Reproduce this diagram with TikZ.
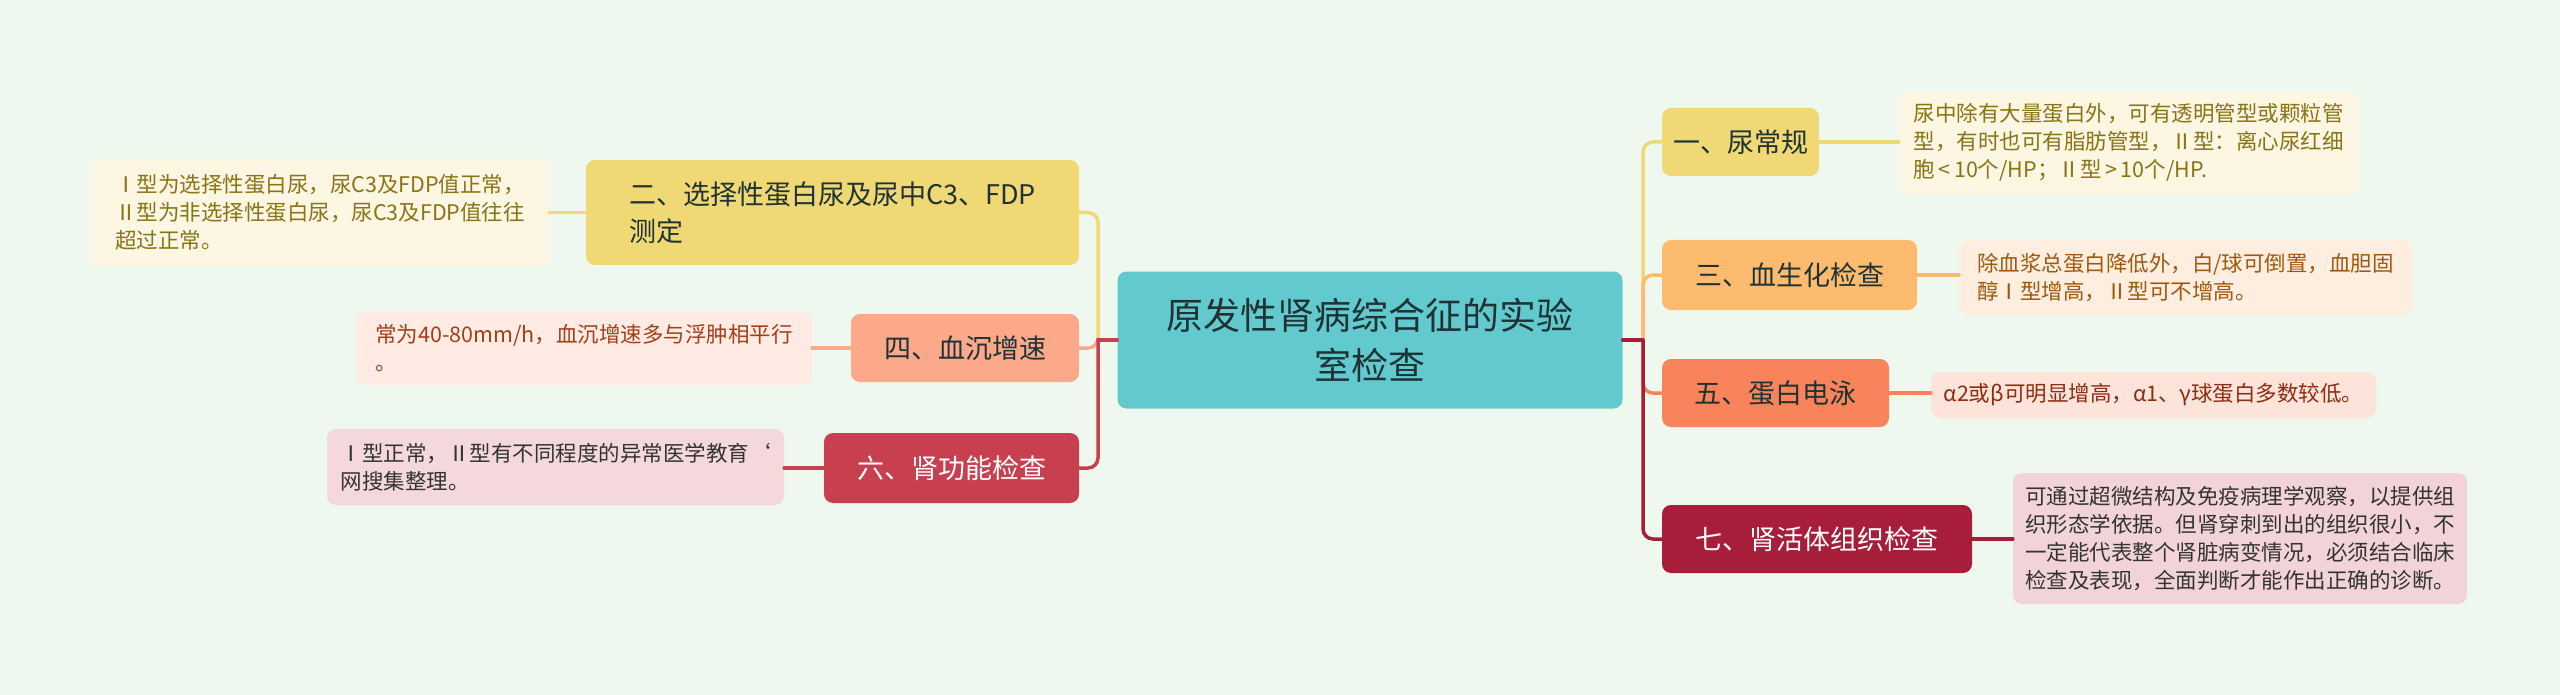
\documentclass[tikz,border=0pt]{standalone}
\usepackage{fontspec}
\setmainfont{Noto Sans CJK SC}
\definecolor{bg}{HTML}{EFF8EE}
\definecolor{cmain}{HTML}{62CACE}
\definecolor{ctext}{HTML}{1F3335}
\definecolor{cyel}{HTML}{F0D875}
\definecolor{cyelleaf}{HTML}{FCF6E2}
\definecolor{cyeltext}{HTML}{8A7415}
\definecolor{csal}{HTML}{FCA88A}
\definecolor{csalleaf}{HTML}{FDEBE4}
\definecolor{csaltext}{HTML}{A63D18}
\definecolor{cred}{HTML}{C8404F}
\definecolor{credleaf}{HTML}{F5D8DC}
\definecolor{cora}{HTML}{FDBB6F}
\definecolor{coraleaf}{HTML}{FEEEDF}
\definecolor{coratext}{HTML}{A0580F}
\definecolor{cfive}{HTML}{F9835A}
\definecolor{cfiveleaf}{HTML}{FDE4DA}
\definecolor{cfivetext}{HTML}{8E2D12}
\definecolor{cdark}{HTML}{A61E3A}
\definecolor{cdarkleaf}{HTML}{F1D3D9}
\definecolor{cgray}{HTML}{333333}
\begin{document}
\begin{tikzpicture}[x=1pt,y=-1pt,
  box/.style={rounded corners=9pt, inner sep=0pt, anchor=center, align=left},
  branchbox/.style={box, font=\fontsize{27pt}{37pt}\selectfont, text=ctext},
  leafbox/.style={box, font=\fontsize{21.5pt}{28pt}\selectfont},
  conn/.style={line width=3.5pt, rounded corners=10pt, line cap=round}]
\fill[bg] (0,0) rectangle (2560,695);
\useasboundingbox (0,0) rectangle (2560,695);

% center
\node[box, fill=cmain, minimum width=505pt, minimum height=137pt, align=center,
  font=\fontsize{37pt}{50pt}\selectfont, text=ctext] (C) at (1370,340)
  {原发性肾病综合征的实验\\室检查};

% left branches
\node[branchbox, fill=cyel, minimum width=493pt, minimum height=105pt] (n2) at (832.5,212.5)
  {二、选择性蛋白尿及尿中C3、FDP\\测定};
\node[leafbox, fill=cyelleaf, text=cyeltext, minimum width=458pt, minimum height=108pt] (l2) at (320,212)
  {Ⅰ型为选择性蛋白尿，尿C3及FDP值正常，\\Ⅱ型为非选择性蛋白尿，尿C3及FDP值往往\\超过正常。};
\node[branchbox, fill=csal, minimum width=228pt, minimum height=68pt] (n4) at (965,348)
  {四、血沉增速};
\node[leafbox, fill=csalleaf, text=csaltext, minimum width=456pt, minimum height=74pt] (l4) at (584,348)
  {常为40-80mm/h，血沉增速多与浮肿相平行\\。};
\node[branchbox, fill=cred, text=white, minimum width=255pt, minimum height=70pt] (n6) at (951.5,468)
  {六、肾功能检查};
\node[leafbox, fill=credleaf, text=cgray, minimum width=457pt, minimum height=76pt] (l6) at (555.5,467)
  {Ⅰ型正常，Ⅱ型有不同程度的异常医学教育\symbol{"60}\\网搜集整理。};

% right branches
\node[branchbox, fill=cyel, minimum width=157pt, minimum height=68pt] (n1) at (1740.5,142)
  {一、尿常规};
\node[leafbox, fill=cyelleaf, text=cyeltext, minimum width=459pt, minimum height=103pt] (l1) at (2128.5,142.5)
  {尿中除有大量蛋白外，可有透明管型或颗粒管\\型，有时也可有脂肪管型，Ⅱ型：离心尿红细\\胞\,<\,10个/HP；Ⅱ型\,>\,10个/HP.};
\node[branchbox, fill=cora, minimum width=255pt, minimum height=70pt] (n3) at (1789.5,275)
  {三、血生化检查};
\node[leafbox, fill=coraleaf, text=coratext, minimum width=453pt, minimum height=75pt] (l3) at (2185.5,277.5)
  {除血浆总蛋白降低外，白/球可倒置，血胆固\\醇Ⅰ型增高，Ⅱ型可不增高。};
\node[branchbox, fill=cfive, minimum width=227pt, minimum height=68pt] (n5) at (1775.5,393)
  {五、蛋白电泳};
\node[leafbox, fill=cfiveleaf, text=cfivetext, minimum width=445pt, minimum height=46pt] (l5) at (2153.5,395)
  {α2或β可明显增高，α1、γ球蛋白多数较低。};
\node[branchbox, fill=cdark, text=white, minimum width=310pt, minimum height=68pt] (n7) at (1817,539)
  {七、肾活体组织检查};
\node[leafbox, fill=cdarkleaf, text=cgray, minimum width=454pt, minimum height=131pt] (l7) at (2240,538.5)
  {可通过超微结构及免疫病理学观察，以提供组\\织形态学依据。但肾穿刺到出的组织很小，不\\一定能代表整个肾脏病变情况，必须结合临床\\检查及表现，全面判断才能作出正确的诊断。};

\coordinate (LJ) at (1098,340);
\coordinate (RJ) at (1643,340);

% left connectors
\draw[conn, cyel] (LJ) |- (n2.east);
\draw[conn, csal] (LJ) |- (n4.east);
\draw[conn, cred] (LJ) |- (n6.east);
\draw[conn, cred] (C.west) -- (LJ);
% right connectors
\draw[conn, cyel] (RJ) |- (n1.west);
\draw[conn, cora] (RJ) |- (n3.west);
\draw[conn, cfive] (RJ) |- (n5.west);
\draw[conn, cdark] (RJ) |- (n7.west);
\draw[conn, cdark] (C.east) -- (RJ);

% leaf connectors
\draw[conn, cyel] (n2.west) -- (n2.west -| l2.east);
\draw[conn, csal] (n4.west) -- (n4.west -| l4.east);
\draw[conn, cred] (n6.west) -- (n6.west -| l6.east);
\draw[conn, cyel] (n1.east) -- (n1.east -| l1.west);
\draw[conn, cora] (n3.east) -- (n3.east -| l3.west);
\draw[conn, cfive] (n5.east) -- (n5.east -| l5.west);
\draw[conn, cdark] (n7.east) -- (n7.east -| l7.west);
\end{tikzpicture}
\end{document}
